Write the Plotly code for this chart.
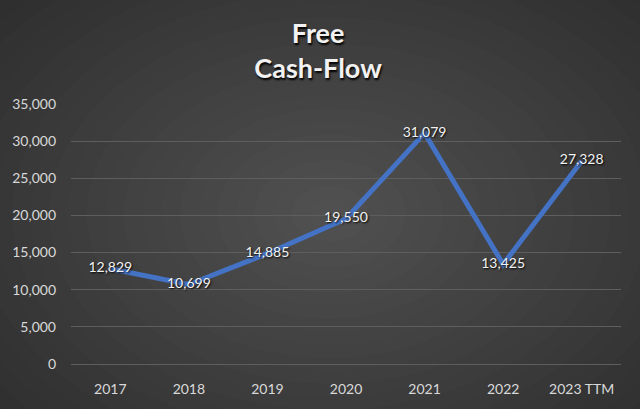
import plotly.graph_objects as go

years = ["2017", "2018", "2019", "2020", "2021", "2022", "2023 TTM"]
fcf = [12829, 10699, 14885, 19550, 31079, 13425, 27328]
y_ticks = [0, 5000, 10000, 15000, 20000, 25000, 30000, 35000]

W, H = 640, 409
ML, MR, MT, MB = 71, 19, 104, 42
PW, PH = W - ML - MR, H - MT - MB

def px_x(X):
    return (X - ML) / PW

def px_y(Y):
    return (H - MB - Y) / PH

fig = go.Figure()
fig.add_trace(go.Scatter(
    x=years, y=fcf, mode="lines+text",
    line=dict(color="#4472C4", width=5),
    text=[f"{v:,}" for v in fcf], textposition="middle center",
    textfont=dict(family="Lato", size=14, color="#f2f2f2", shadow="1px 1px 2px #000"),
    cliponaxis=False, hoverinfo="skip", showlegend=False,
))

# radial-ish background gradient via concentric ellipses
shapes = []
n = 30
c_out = (38, 38, 38)
c_in = (80, 80, 80)
cx, cy = 330, 215
for i in range(n):
    t = i / (n - 1)
    rx = 540 * (1 - t) + 20
    ry = 380 * (1 - t) + 15
    col = tuple(int(round(c_out[k] + (c_in[k] - c_out[k]) * t)) for k in range(3))
    shapes.append(dict(
        type="circle", xref="paper", yref="paper", layer="below",
        x0=px_x(cx - rx), x1=px_x(cx + rx), y0=px_y(cy + ry), y1=px_y(cy - ry),
        fillcolor=f"rgb{col}", line=dict(width=0),
    ))

fig.update_layout(
    width=W, height=H,
    margin=dict(l=ML, r=MR, t=MT, b=MB),
    paper_bgcolor="#262626", plot_bgcolor="rgba(0,0,0,0)",
    shapes=shapes,
    title=dict(text="Free<br>Cash-Flow", x=0.497, xanchor="center", y=0.896, yanchor="middle",
               font=dict(family="Lato", size=27, color="#f2f2f2", weight="bold",
                         shadow="1px 2px 2px #000")),
    xaxis=dict(type="category", range=[-0.5, 6.5], showgrid=False, showline=True,
               linecolor="#5e5e5e", linewidth=1, ticks="", ticklabelstandoff=12,
               tickfont=dict(family="Lato", size=14, color="#d9d9d9"), fixedrange=True),
    yaxis=dict(range=[0, 35000], tickvals=y_ticks, tickformat=",d", showgrid=True,
               gridcolor="#5e5e5e", gridwidth=1, zeroline=False, showline=False,
               ticks="", ticklabelstandoff=14,
               tickfont=dict(family="Lato", size=14, color="#d9d9d9"), fixedrange=True),
    font=dict(family="Lato"),
)

fig.write_html("out.html")
